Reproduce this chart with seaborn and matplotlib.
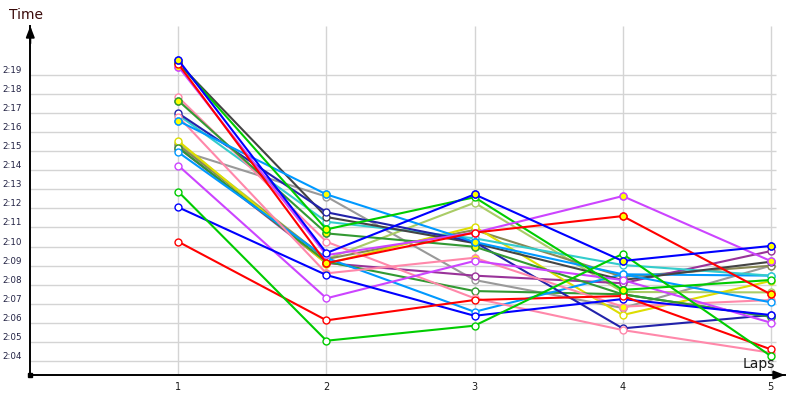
import matplotlib
matplotlib.use("Agg")
import matplotlib.pyplot as plt
import seaborn as sns
import pandas as pd

# ---------------- data (lap times in seconds) ----------------
laps = [1, 2, 3, 4, 5]
tick_secs = list(range(124, 140))
tick_labels = [f"2:{s - 120:02d}" for s in tick_secs]

red_a = [139.59, 129.13, 130.73, 131.60, 127.49]
red_b = [130.25, 126.12, 127.19, 127.40, 124.60]
green_c = [132.88, 125.05, 125.84, 129.61, 124.25]
blue_d = [132.06, 128.50, 126.36, 127.24, 126.40]
blue_f = [139.80, 129.66, 132.74, 129.24, 130.03]
violet_g = [134.25, 127.28, 129.24, 128.24, 126.00]
violet_h = [139.45, 129.55, 130.73, 132.65, 129.24]
lightblue_i = [136.60, 132.74, 130.24, 128.54, 127.07]
lightblue_j = [134.95, 129.40, 126.57, 128.54, 128.47]
gray_l = [135.07, 132.62, 128.24, 126.77, 128.99]
navy_m = [137.00, 131.80, 130.24, 125.70, 126.40]
black_n = [139.64, 131.55, 130.18, 128.24, 129.20]
green_o = [139.66, 130.90, 132.59, 127.72, 128.24]
yellowgreen_p = [135.44, 129.34, 132.30, 127.61, 127.59]
darkgreen_q = [137.66, 130.69, 129.99, 127.49, 126.31]
darkgreen_r = [135.19, 129.20, 127.66, 127.49, 126.31]
pink_s = [136.82, 128.59, 129.41, 126.84, 127.19]
pink_t = [137.84, 130.25, 127.28, 125.61, 124.42]
yellow_u = [135.54, 129.10, 131.04, 126.40, 128.19]
olive_v = [135.33, 129.34, 130.87, 128.41, 128.99]
purple_w = [135.19, 129.13, 128.47, 128.07, 129.76]
cyan_k = [136.91, 131.30, 130.43, 129.03, 128.47]

series = [
    ("gray_l", gray_l, "#999999", []),
    ("yellowgreen_p", yellowgreen_p, "#aacc66", []),
    ("olive_v", olive_v, "#888855", []),
    ("purple_w", purple_w, "#993399", []),
    ("yellow_u", yellow_u, "#dddd00", []),
    ("darkgreen_r", darkgreen_r, "#339933", []),
    ("lightblue_j", lightblue_j, "#0099ff", []),
    ("cyan_k", cyan_k, "#33cccc", []),
    ("black_n", black_n, "#444444", []),
    ("navy_m", navy_m, "#2222aa", []),
    ("pink_t", pink_t, "#ff88aa", []),
    ("pink_s", pink_s, "#ff88aa", [2, 3, 4]),
    ("darkgreen_q", darkgreen_q, "#339933", [1, 2, 3]),
    ("lightblue_i", lightblue_i, "#0099ff", [1, 2, 3]),
    ("violet_g", violet_g, "#cc44ff", []),
    ("blue_d", blue_d, "#0000ff", []),
    ("red_b", red_b, "#ff0000", []),
    ("green_c", green_c, "#00cc00", []),
    ("green_o", green_o, "#00cc00", [2, 4]),
    ("violet_h", violet_h, "#cc44ff", [1, 3, 4, 5]),
    ("red_a", red_a, "#ff0000", [2, 4, 5]),
    ("blue_f", blue_f, "#0000ff", [1, 3, 4, 5]),
]

# ---------------- figure ----------------
sns.set_style("white")
plt.rcParams["font.family"] = ["DejaVu Sans"]

W, H = 800, 400
fig = plt.figure(figsize=(8, 4), dpi=100)
L, R, T, B = 30.3, 785, 26, 375
ax = fig.add_axes([L / W, 1 - B / H, (R - L) / W, (B - T) / H])

px_lap = 148.1
px_sec = 19.03
ax.set_xlim(0, (R - 30.2) / px_lap)
ax.set_ylim(124 - (B - 360.7) / px_sec, 124 + (360.7 - T) / px_sec)

# grid
ax.hlines(tick_secs, 0, 5.034, color="#d4d4d4", lw=1.0, zorder=0)
ax.vlines(laps, ax.get_ylim()[0], ax.get_ylim()[1], color="#d4d4d4", lw=1.0, zorder=0)

for name, vals, col, hl in series:
    df = pd.DataFrame({"lap": laps, "time": vals})
    sns.lineplot(data=df, x="lap", y="time", color=col, marker="o",
                 markersize=5, markeredgewidth=1.0, markerfacecolor="white",
                 markeredgecolor=col, lw=1.5, sort=False, estimator=None,
                 errorbar=None, legend=False, ax=ax, zorder=3)
    line = ax.lines[-1]
    line.set_markerfacecolor("white")
    line.set_markeredgecolor(col)
    if hl:
        hx = [laps[i - 1] for i in hl]
        hy = [vals[i - 1] for i in hl]
        ax.plot(hx, hy, ls="none", marker="o", ms=5, mew=1.0, mec=col,
                mfc="#ffff00", zorder=3)

# axes styling
for s in ["top", "right"]:
    ax.spines[s].set_visible(False)
for s in ["left", "bottom"]:
    ax.spines[s].set_color("black")
    ax.spines[s].set_linewidth(1.4)

ax.set_xticks(laps)
ax.set_xticklabels([str(l) for l in laps])
ax.set_yticks(tick_secs)
ax.set_yticklabels(tick_labels)
ax.tick_params(axis="x", length=0, pad=5, labelsize=7, labelcolor="#1a1a1a")
ax.tick_params(axis="y", length=0, pad=6, labelsize=6.3, labelcolor="#222244")
for lbl in ax.get_yticklabels():
    lbl.set_verticalalignment("bottom")
ax.set_xlabel("")
ax.set_ylabel("")

# arrows and origin square
ax.annotate("", xy=(0, 1), xycoords="axes fraction", xytext=(0, 0.95),
            arrowprops=dict(arrowstyle="-|>,head_length=0.65,head_width=0.25",
                            color="black", lw=1.4, shrinkA=0, shrinkB=0))
ax.annotate("", xy=(1, 0), xycoords="axes fraction", xytext=(0.98, 0),
            arrowprops=dict(arrowstyle="-|>,head_length=0.65,head_width=0.25",
                            color="black", lw=1.4, shrinkA=0, shrinkB=0))
ax.plot([0], [ax.get_ylim()[0]], marker="s", ms=3, color="black", clip_on=False, zorder=5)

fig.text(9 / W, 1 - 15 / H, "Time", fontsize=10, ha="left", va="center", color="#3a0a0a")
fig.text(743 / W, 1 - 364 / H, "Laps", fontsize=10, ha="left", va="center", color="#1a1a1a")

fig.savefig("out.png", dpi=100, facecolor="white")
